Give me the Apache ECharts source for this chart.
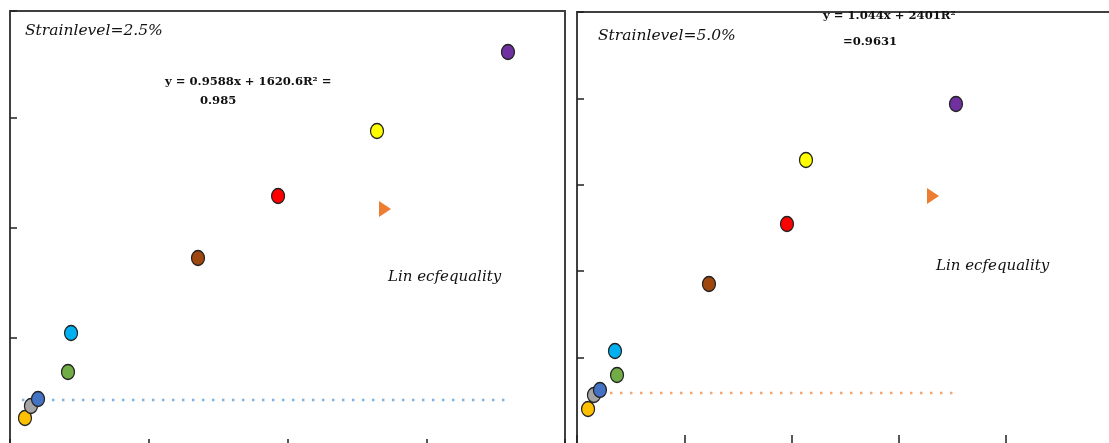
<!DOCTYPE html>
<html>
<head>
<meta charset="utf-8">
<script src="https://cdn.jsdelivr.net/npm/echarts@6/dist/echarts.min.js"></script>
<style>
    html, body {margin: 0; padding: 0; overflow: hidden; background: #fff;}
    #main {width: 1120px; height: 452px;}
</style>
</head>
<body>
<div id="main"></div>
<script>
//point colours (same order in both panels)
var pointColors = ['#ffc000', '#a5a5a5', '#4472c4', '#70ad47', '#00b0f0', '#9e480e', '#ff0000', '#ffff00', '#7030a0'];

//strain level 2.5%
var xLeft = [1080, 1510, 2020, 4180, 4400, 13550, 19320, 26450, 35890];
var yLeft = [2730, 3820, 4450, 6910, 10450, 17270, 22910, 28820, 36000];
var refLineLeft = [[860, 4360], [35890, 4360]];

//strain level 5.0%
var xRight = [1030, 1580, 2140, 3730, 3540, 12300, 19570, 21340, 35320];
var yRight = [4050, 5670, 6250, 7990, 10760, 18520, 25460, 32870, 39350];
var refLineRight = [[1210, 5900], [35510, 5900]];

var labels = ['Strainlevel=2.5%', 'Strainlevel=5.0%'];
var eqLeft = ['y = 0.9588x + 1620.6R\u00b2 =', '0.985'];
var eqRight = ['y = 1.044x + 2401R\u00b2', '=0.9631'];
var legendText = 'Lin ecfequality';

function buildPoints(xs, ys) {
    var arr = [];
    for (var i = 0; i < xs.length; i++) {
        arr.push({
            value: [xs[i], ys[i]],
            itemStyle: {color: pointColors[i]}
        });
    }
    return arr;
}

var axisLine = {show: true, lineStyle: {color: '#404040', width: 2}};

function xAxis(idx, max) {
    return {
        gridIndex: idx, type: 'value', min: 0, max: max, interval: 10000,
        axisLine: axisLine,
        axisTick: {show: true, inside: true, length: 9, lineStyle: {color: '#222', width: 1.5}},
        axisLabel: {show: false},
        splitLine: {show: false}
    };
}
function yAxis(idx, max) {
    return {
        gridIndex: idx, type: 'value', min: 0, max: max, interval: 10000,
        axisLine: axisLine,
        axisTick: {show: true, inside: true, length: 7, lineStyle: {color: '#222', width: 1.5}},
        axisLabel: {show: false},
        splitLine: {show: false}
    };
}

var labelFont = 'italic 15.5px "DejaVu Serif"';
var eqFont = 'bold 11.6px "DejaVu Serif"';
var legendFont = 'italic 15px "DejaVu Serif"';

var chart = echarts.init(document.getElementById('main'), null, {renderer: 'canvas'});
option = {
    animation: false,
    backgroundColor: '#fff',
    grid: [
        {left: 10, top: 11, width: 555, height: 437, show: true, borderColor: '#404040', borderWidth: 2},
        {left: 577, top: 12, width: 536.5, height: 432, show: true, borderColor: '#404040', borderWidth: 2}
    ],
    xAxis: [xAxis(0, 40000), xAxis(1, 50000)],
    yAxis: [yAxis(0, 39727), yAxis(1, 50000)],
    series: [
        {
            type: 'line', xAxisIndex: 0, yAxisIndex: 0, data: refLineLeft, symbol: 'none',
            lineStyle: {color: '#7fb2e0', width: 2.5, type: [2.5, 7.5]}, z: 1
        },
        {
            type: 'scatter', xAxisIndex: 0, yAxisIndex: 0, data: buildPoints(xLeft, yLeft),
            symbol: 'circle', symbolSize: [13, 15],
            itemStyle: {borderColor: '#222', borderWidth: 1.3, opacity: 1}, z: 3
        },
        {
            type: 'line', xAxisIndex: 1, yAxisIndex: 1, data: refLineRight, symbol: 'none',
            lineStyle: {color: '#f4a46e', width: 2.5, type: [2.5, 7.5]}, z: 1
        },
        {
            type: 'scatter', xAxisIndex: 1, yAxisIndex: 1, data: buildPoints(xRight, yRight),
            symbol: 'circle', symbolSize: [13, 15],
            itemStyle: {borderColor: '#222', borderWidth: 1.3, opacity: 1}, z: 3
        }
    ],
    graphic: [
        //panel labels
        {type: 'text', left: 25, top: 23, style: {text: labels[0], fill: '#111', font: labelFont}},
        {type: 'text', left: 598, top: 28, style: {text: labels[1], fill: '#111', font: labelFont}},
        //regression equations
        {type: 'text', left: 165, top: 76, style: {text: eqLeft[0], fill: '#111', font: eqFont}},
        {type: 'text', left: 200, top: 95, style: {text: eqLeft[1], fill: '#111', font: eqFont}},
        {type: 'text', left: 823, top: 10, style: {text: eqRight[0], fill: '#111', font: eqFont}},
        {type: 'text', left: 843, top: 36, style: {text: eqRight[1], fill: '#111', font: eqFont}},
        //line of equality marker + text
        {type: 'polygon', shape: {points: [[379, 201], [391, 209], [379, 217]]}, style: {fill: '#ed7d31'}},
        {type: 'polygon', shape: {points: [[927, 188], [939, 196], [927, 204]]}, style: {fill: '#ed7d31'}},
        {type: 'text', left: 388, top: 270, style: {text: legendText, fill: '#111', font: legendFont}},
        {type: 'text', left: 936, top: 259, style: {text: legendText, fill: '#111', font: legendFont}}
    ]
};
chart.setOption(option);
</script>
</body>
</html>
